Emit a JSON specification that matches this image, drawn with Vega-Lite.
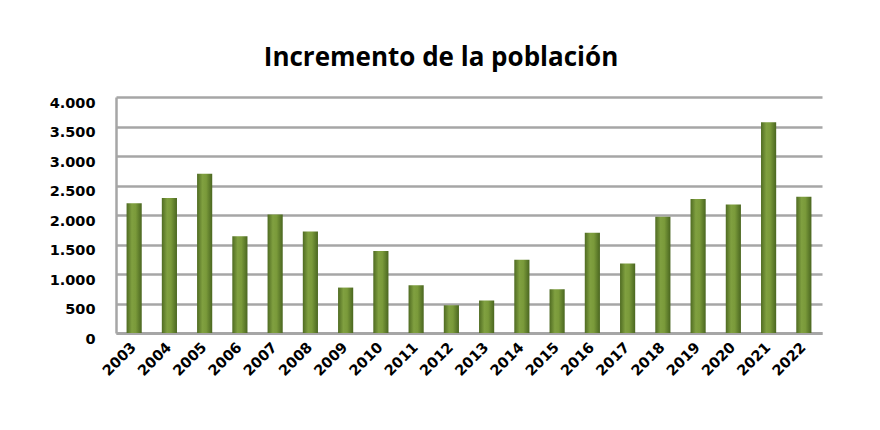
{
  "$schema": "https://vega.github.io/schema/vega-lite/v6.json",
  "autosize": "none",
  "width": 706,
  "height": 236,
  "padding": {"left": 116, "top": 97, "right": 58, "bottom": 97},
  "background": "white",
  "title": {
    "text": "Incremento de la población",
    "font": "Open Sans",
    "fontSize": 26,
    "fontWeight": "bold",
    "color": "#000000",
    "anchor": "middle",
    "dx": -28,
    "offset": 24
  },
  "data": {
    "values": [
      {"year": "2003", "value": 2200},
      {"year": "2004", "value": 2290},
      {"year": "2005", "value": 2700},
      {"year": "2006", "value": 1640},
      {"year": "2007", "value": 2010},
      {"year": "2008", "value": 1720},
      {"year": "2009", "value": 770},
      {"year": "2010", "value": 1390},
      {"year": "2011", "value": 810},
      {"year": "2012", "value": 470},
      {"year": "2013", "value": 550},
      {"year": "2014", "value": 1240},
      {"year": "2015", "value": 740},
      {"year": "2016", "value": 1700},
      {"year": "2017", "value": 1180},
      {"year": "2018", "value": 1970},
      {"year": "2019", "value": 2270},
      {"year": "2020", "value": 2180},
      {"year": "2021", "value": 3570},
      {"year": "2022", "value": 2310}
    ]
  },
  "mark": {
    "type": "bar",
    "cornerRadiusTop": 3,
    "color": {
      "gradient": "linear",
      "x1": 0, "x2": 1, "y1": 0, "y2": 0,
      "stops": [
        {"offset": 0, "color": "#4f6b22"},
        {"offset": 0.35, "color": "#80a040"},
        {"offset": 0.6, "color": "#7a9a3a"},
        {"offset": 1, "color": "#4a6620"}
      ]
    }
  },
  "encoding": {
    "x": {
      "field": "year",
      "type": "ordinal",
      "scale": {"paddingInner": 0.57, "paddingOuter": 0.3},
      "axis": {
        "title": null,
        "labelAngle": -45,
        "labelAlign": "right",
        "labelBaseline": "middle",
        "labelFont": "DejaVu Sans",
        "labelFontWeight": "bold",
        "labelFontSize": 14.5,
        "labelColor": "#000000",
        "labelPadding": 12,
        "ticks": false,
        "domainColor": "#a6a6a6",
        "domainWidth": 3
      }
    },
    "y": {
      "field": "value",
      "type": "quantitative",
      "scale": {"domain": [0, 4000]},
      "axis": {
        "title": null,
        "values": [0, 500, 1000, 1500, 2000, 2500, 3000, 3500, 4000],
        "labelExpr": "replace(format(datum.value, ','), ',', '.')",
        "labelFont": "DejaVu Sans",
        "labelFontWeight": "bold",
        "labelFontSize": 14.5,
        "labelColor": "#000000",
        "labelPadding": 21,
        "labelOffset": 6,
        "ticks": false,
        "grid": true,
        "gridColor": "#a6a6a6",
        "gridWidth": 2.5,
        "domainColor": "#a6a6a6",
        "domainWidth": 2.5
      }
    }
  },
  "config": {
    "view": {"stroke": null}
  }
}
